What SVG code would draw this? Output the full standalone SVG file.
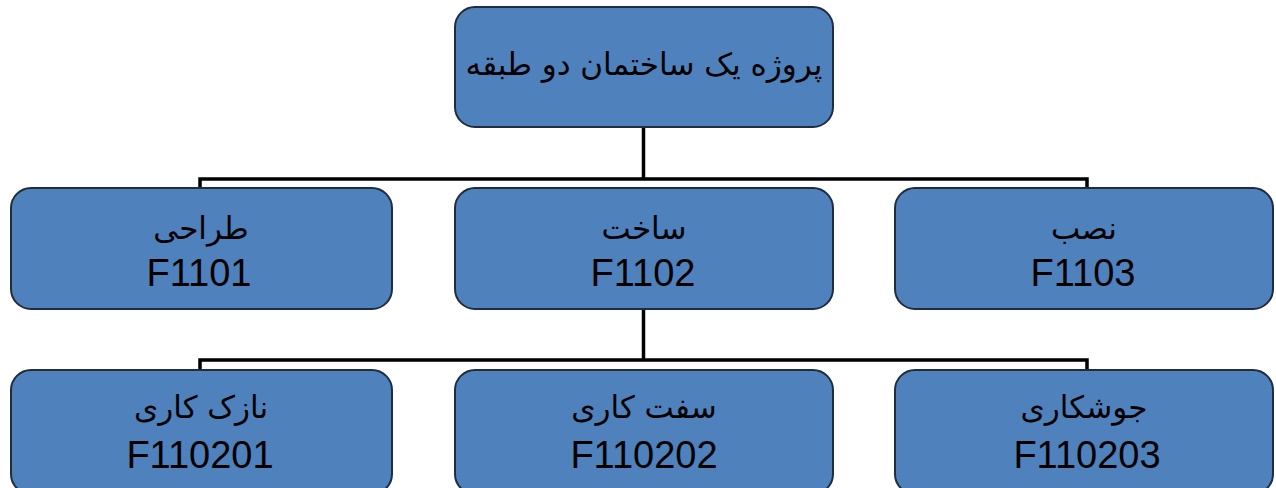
<svg xmlns="http://www.w3.org/2000/svg" width="1276" height="488" viewBox="0 0 1276 488">
  <style>
    .box { fill: #4f81bd; stroke: #1f2d3d; stroke-width: 2; }
    .fa { font-family: "DejaVu Sans", "Liberation Sans", sans-serif; font-size: 31px; fill: #000; text-anchor: middle; direction: rtl; unicode-bidi: embed; }
    .code { font-family: "Liberation Sans", Arial, sans-serif; font-size: 38px; fill: #000; text-anchor: middle; }
    .conn { fill: none; stroke: #000; stroke-width: 3.5; }
  </style>
  <rect width="1276" height="488" fill="#fff"/>

  <!-- tree connectors -->
  <g id="connectors">
    <path class="conn" d="M643.5 127 V179 M200 188 V179 H1087 V188"/>
    <path class="conn" d="M643.5 309 V360 M200 370 V360 H1087 V370"/>
  </g>

  <!-- root -->
  <g id="root">
    <rect class="box" x="455" y="7" width="378" height="120" rx="20"/>
    <text class="fa" x="644" y="75">پروژه یک ساختمان دو طبقه</text>
  </g>

  <!-- level 1 -->
  <g id="f1101">
    <rect class="box" x="11" y="188" width="381" height="121" rx="20"/>
    <text class="fa" x="201" y="239">طراحی</text>
    <text class="code" x="199" y="286">F1101</text>
  </g>
  <g id="f1102">
    <rect class="box" x="455" y="188" width="378" height="121" rx="20"/>
    <text class="fa" x="644" y="239">ساخت</text>
    <text class="code" x="643" y="286">F1102</text>
  </g>
  <g id="f1103">
    <rect class="box" x="895" y="188" width="378" height="121" rx="20"/>
    <text class="fa" x="1084" y="239">نصب</text>
    <text class="code" x="1083" y="286">F1103</text>
  </g>

  <!-- level 2 -->
  <g id="f110201">
    <rect class="box" x="11" y="370" width="381" height="124" rx="20"/>
    <text class="fa" x="201" y="418">نازک کاری</text>
    <text class="code" x="200" y="468">F110201</text>
  </g>
  <g id="f110202">
    <rect class="box" x="455" y="370" width="378" height="124" rx="20"/>
    <text class="fa" x="644" y="418">سفت کاری</text>
    <text class="code" x="644" y="468">F110202</text>
  </g>
  <g id="f110203">
    <rect class="box" x="895" y="370" width="378" height="124" rx="20"/>
    <text class="fa" x="1084" y="418">جوشکاری</text>
    <text class="code" x="1087" y="468">F110203</text>
  </g>
</svg>
